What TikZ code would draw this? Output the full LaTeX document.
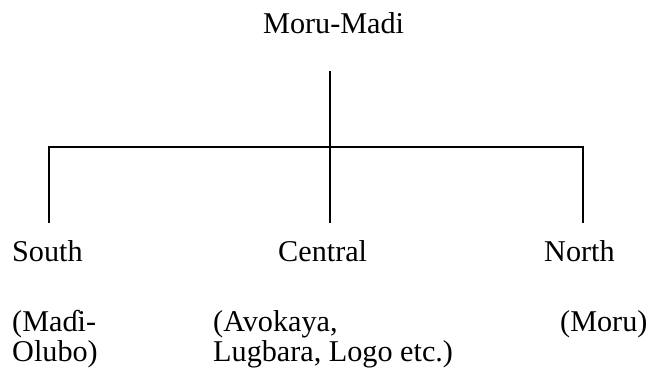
\documentclass[tikz,border=0pt]{standalone}
\usepackage{fontspec}
\setmainfont{Liberation Serif}
\usepackage{tikz}
\usetikzlibrary{positioning, calc}

\begin{document}
\begin{tikzpicture}[
    x=1pt, y=-1pt,
    every node/.style={inner sep=0pt, anchor=base west, align=left,
        font=\fontsize{30.2}{29.5}\selectfont},
    branch/.style={draw, line width=1.4pt}
]
    \useasboundingbox (0,0) rectangle (648,381);
    % Family tree
    \node (root) at (263,33) {Moru-Madi};
    \node (south) at (12,261) {South};
    \node (central) at (278,261) {Central};
    \node (north) at (544,261) {North};
    % two-line labels sit on their last baseline
    \node (southlang) at (12,361) {(Maɗi-\\Olubo)};
    \node (centrallang) at (213,361) {(Avokaya,\\Lugbara, Logo etc.)};
    \node (northlang) at (560,331) {(Moru)};

    \coordinate (stem) at (330,71);
    \coordinate (fork) at (330,147);
    \coordinate (sfork) at (49,147);
    \coordinate (nfork) at (583,147);
    \coordinate (send) at (49,223);
    \coordinate (cend) at (330,223);
    \coordinate (nend) at (583,223);

    \draw[branch] (stem) -- (fork) -- (cend);
    \draw[branch] (send) -- (sfork) -- (nfork) -- (nend);
\end{tikzpicture}
\end{document}
